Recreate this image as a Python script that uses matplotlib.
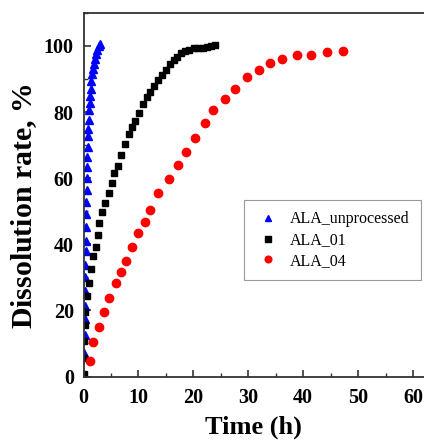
import matplotlib
matplotlib.use("Agg")
import matplotlib.pyplot as plt
from matplotlib.ticker import MultipleLocator

plt.rcParams['font.family'] = ['Liberation Serif', 'DejaVu Serif']
plt.rcParams['mathtext.fontset'] = 'custom'
plt.rcParams['mathtext.it'] = 'Liberation Serif:italic:bold'
plt.rcParams['mathtext.rm'] = 'Liberation Serif:bold'

# ALA_unprocessed (blue triangles)
t_unproc = [0.15, 0.2, 0.22, 0.25, 0.28, 0.3, 0.33, 0.36, 0.4, 0.43, 0.46, 0.5, 0.55,
            0.6, 0.65, 0.7, 0.75, 0.82, 0.88, 0.95, 1.02, 1.1, 1.2, 1.3, 1.4, 1.55,
            1.7, 1.85, 2.0, 2.2, 2.45, 2.75, 3.05]
v_unproc = [7.2, 12.5, 17.4, 21.3, 25.8, 30.2, 33.7, 38.0, 41.0, 45.3, 49.1, 52.8, 56.5,
            59.9, 63.4, 66.4, 69.4, 72.7, 75.0, 77.7, 80.5, 82.7, 85.0, 87.1, 89.4, 91.6,
            93.1, 94.6, 96.1, 97.6, 98.8, 99.9, 100.6]

# ALA_01 (black squares)
t_01 = [0.1, 0.1, 0.1, 0.3, 0.3, 0.7, 1.0, 1.4, 1.7, 2.2, 2.6, 2.9, 3.4, 4.0, 4.6, 5.1,
        5.6, 6.3, 6.9, 7.6, 8.2, 8.8, 9.4, 10.1, 10.8, 11.5, 12.1, 12.8, 13.6, 14.3,
        15.0, 15.7, 16.5, 17.1, 17.7, 18.5, 19.2, 20.1, 20.9, 21.7, 22.4, 23.3, 24.0]
v_01 = [0.7, 5.5, 10.7, 15.6, 19.4, 24.5, 28.3, 32.6, 36.4, 39.2, 42.7, 46.3, 49.9, 52.6,
        55.4, 58.4, 61.7, 63.8, 67.0, 70.2, 73.4, 75.4, 77.3, 79.8, 82.4, 84.4, 86.2, 87.9,
        89.6, 91.2, 92.6, 94.6, 95.6, 96.6, 97.8, 98.6, 98.9, 99.3, 99.4, 99.5, 99.6, 99.9,
        100.4]

# ALA_04 (red circles)
t_04 = [1.1, 1.7, 2.8, 3.7, 4.6, 6.0, 6.8, 7.8, 8.9, 10.0, 11.2, 12.1, 13.6, 15.5, 17.2,
        18.7, 20.3, 22.1, 23.6, 25.7, 27.6, 29.8, 31.9, 34.0, 36.1, 38.8, 41.4, 44.3, 47.2]
v_04 = [4.7, 10.5, 15.0, 19.6, 23.7, 28.3, 31.7, 34.9, 39.2, 43.3, 46.6, 50.4, 55.4, 59.6,
        64.0, 67.9, 72.0, 76.6, 80.7, 84.0, 87.1, 90.7, 92.8, 94.9, 96.1, 97.4, 97.4, 98.2,
        98.6]

x_ticks = [0, 10, 20, 30, 40, 50, 60]
y_ticks = [0, 20, 40, 60, 80, 100]

fig = plt.figure(figsize=(4.24, 4.43), dpi=100)
ax = fig.add_axes([0.197, 0.150, 1.0 - 0.197, 0.821])

ax.plot(t_unproc, v_unproc, linestyle='none', marker='^', color='#0000FF', markersize=6,
        label='ALA_unprocessed')
ax.plot(t_01, v_01, linestyle='none', marker='s', color='black', markersize=5,
        label='ALA_01')
ax.plot(t_04, v_04, linestyle='none', marker='o', color='#FF0000', markersize=6,
        label='ALA_04')

ax.set_xlim(0, 62)
ax.set_ylim(0, 110)
ax.set_xticks(x_ticks)
ax.set_yticks(y_ticks)
ax.xaxis.set_minor_locator(MultipleLocator(5))
ax.yaxis.set_minor_locator(MultipleLocator(10))
ax.tick_params(which='major', direction='in', length=5, width=1.2, labelsize=14.5,
               color='#333333')
ax.tick_params(axis='x', which='major', pad=8)
ax.tick_params(axis='y', which='major', pad=7)
ax.tick_params(which='minor', direction='in', length=3, width=1.0, color='#333333')
ax.tick_params(top=False, right=False, which='both')
for lab in ax.get_xticklabels() + ax.get_yticklabels():
    lab.set_fontweight('bold')

ax.spines['right'].set_visible(False)
for s in ['left', 'bottom', 'top']:
    ax.spines[s].set_linewidth(1.3)
    ax.spines[s].set_color('#333333')

ax.set_xlabel('Time (h)', fontsize=19, fontweight='bold', labelpad=6)
ax.set_ylabel(r'Dissolution rate, $\mathit{\%}$', fontsize=21.5, fontweight='bold')
ax.yaxis.set_label_coords(-0.13, 0.468)

leg = ax.legend(loc='upper left', bbox_to_anchor=(0.471, 0.485), fontsize=11.5,
                frameon=True, fancybox=False, edgecolor='#999999', framealpha=1,
                handletextpad=0.6, labelspacing=0.3, borderpad=0.7, markerscale=0.8,
                handlelength=1.6, borderaxespad=0)
leg.get_frame().set_linewidth(0.8)

fig.savefig('out.png', dpi=100)
